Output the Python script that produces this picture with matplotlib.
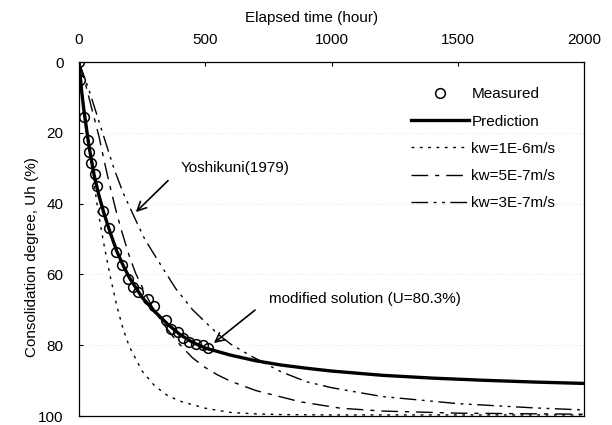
import matplotlib
matplotlib.use("Agg")
import matplotlib.pyplot as plt

# ---- data ----
t_meas = [0, 5, 20, 35, 40, 47, 62, 72, 97, 119, 146, 170, 196, 213, 235, 272, 296, 344, 364, 391, 411, 435, 462, 490, 510]
u_meas = [0, 5, 15.5, 22, 25.5, 28.5, 31.5, 35, 42, 47, 53.8, 57.3, 61.3, 63.5, 65, 67, 69, 72.8, 75.4, 76.3, 78, 79, 79.7, 80, 80.8]

t_pred = [0, 10, 20, 40, 60, 80, 100, 125, 150, 175, 200, 250, 300, 350, 400, 450, 500, 600, 700, 800, 900, 1000, 1200, 1400, 1600, 1800, 2000]
u_pred = [0, 8, 14, 24, 32, 38, 43, 48.5, 53.5, 57.5, 61, 66.5, 70.5, 74, 77, 79.2, 80.8, 82.8, 84.4, 85.6, 86.5, 87.3, 88.5, 89.3, 89.9, 90.4, 90.8]

t_kw1 = [0, 10, 25, 50, 75, 100, 125, 150, 175, 200, 250, 300, 350, 400, 450, 500, 600, 700, 800, 1000, 1500, 2000]
u_kw1 = [0, 6, 15, 29, 42, 52, 61, 69, 75.5, 80.5, 87.3, 91.5, 94.2, 95.8, 96.8, 97.8, 99, 99.4, 99.6, 99.7, 99.7, 99.7]

t_kw5 = [0, 25, 50, 79, 100, 119, 150, 172, 200, 225, 260, 296, 350, 391, 450, 500, 549, 601, 700, 877, 1036, 1200, 1500, 2000]
u_kw5 = [0, 6, 13, 21, 28, 34, 43, 48.5, 55, 59.8, 65, 70, 75.5, 79.2, 83.6, 86.3, 88.4, 90.2, 92.8, 96, 97.8, 98.6, 99.2, 99.5]

t_kw3 = [0, 20, 40, 80, 138, 175, 217, 260, 312, 383, 450, 549, 601, 680, 800, 900, 1000, 1200, 1500, 1800, 2000]
u_kw3 = [0, 4, 8, 17, 30, 37, 43.5, 50, 56, 64, 70, 76.8, 79.7, 83, 87.5, 90.3, 92, 94.5, 96.5, 97.7, 98.3]

x_ticks = [0, 500, 1000, 1500, 2000]
y_ticks = [0, 20, 40, 60, 80, 100]

plt.rcParams['font.family'] = ['Liberation Sans', 'DejaVu Sans']

fig = plt.figure(figsize=(6.12, 4.25), dpi=100)
ax = fig.add_axes([79/612, 1-416/425, (584-79)/612, (416-62)/425])

ax.plot(t_kw1, u_kw1, color='black', lw=1.0, ls=(0, (2, 4)), label='kw=1E-6m/s', zorder=2)
ax.plot(t_kw5, u_kw5, color='black', lw=1.0, ls=(0, (12, 5, 3, 5)), label='kw=5E-7m/s', zorder=2)
ax.plot(t_kw3, u_kw3, color='black', lw=1.0, ls=(0, (12, 4, 2, 4, 2, 4)), label='kw=3E-7m/s', zorder=2)
ax.plot(t_pred, u_pred, color='black', lw=2.4, label='Prediction', zorder=3)
ax.plot(t_meas, u_meas, ls='none', marker='o', ms=7, mfc='none', mec='black', mew=1.1,
        label='Measured', zorder=4)

ax.set_xlim(0, 2000)
ax.set_ylim(100, 0)
ax.xaxis.tick_top()
ax.xaxis.set_label_position('top')
ax.set_xticks(x_ticks)
ax.set_yticks(y_ticks)
ax.tick_params(axis='both', direction='in', length=3, labelsize=11, pad=11, color='black')
ax.tick_params(axis='x', top=True, bottom=False)
ax.set_xlabel('Elapsed time (hour)', fontsize=11)
ax.xaxis.set_label_coords(0.46, 1.112)
ax.set_ylabel('Consolidation degree, Uh (%)', fontsize=11)
ax.yaxis.set_label_coords(-0.079, 0.45)
for s in ax.spines.values():
    s.set_linewidth(0.9)

ax.grid(axis='y', color='#d8d8d8', ls=(0, (1, 3)), lw=0.6)

ax.annotate('Yoshikuni(1979)', xy=(225, 42.4), xytext=(403, 30), fontsize=11,
            va='center', ha='left',
            arrowprops=dict(arrowstyle='->', color='black', lw=1.2, mutation_scale=16,
                            shrinkA=10, shrinkB=0,
                            relpos=(0, 0.5)))
ax.annotate('modified solution (U=80.3%)', xy=(534, 79.4), xytext=(751, 67), fontsize=11,
            va='center', ha='left',
            arrowprops=dict(arrowstyle='->', color='black', lw=1.2, mutation_scale=16,
                            shrinkA=10, shrinkB=0,
                            relpos=(0, 0.5)))

handles, labels = ax.get_legend_handles_labels()
order = ['Measured', 'Prediction', 'kw=1E-6m/s', 'kw=5E-7m/s', 'kw=3E-7m/s']
hmap = dict(zip(labels, handles))
leg = ax.legend([hmap[k] for k in order], order, loc='upper left',
                bbox_to_anchor=(405/612 - 0.01, 1 - 75/425), bbox_transform=fig.transFigure,
                frameon=False, fontsize=11, handlelength=3.8, handletextpad=0.15,
                labelspacing=0.87, borderpad=0.3)

fig.savefig('out.png', dpi=100)
